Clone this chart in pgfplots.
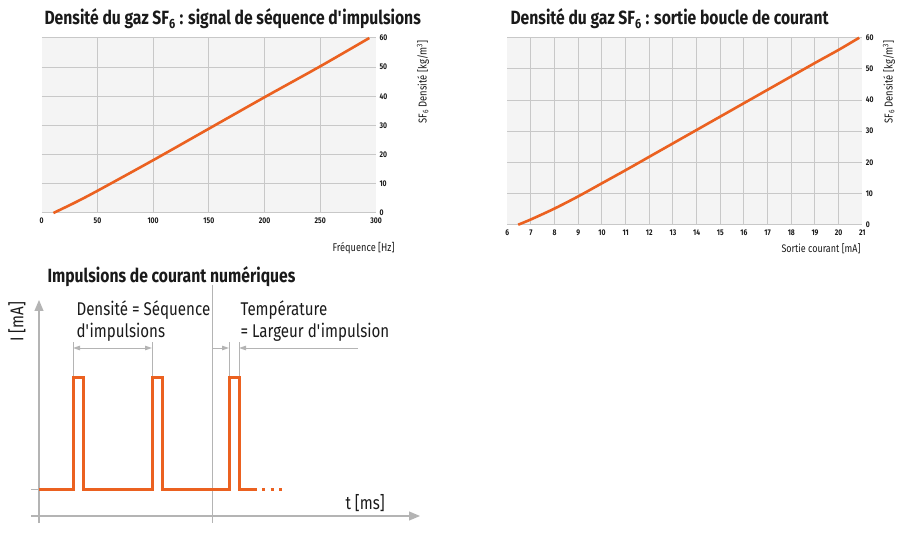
\documentclass[border=0pt]{standalone}
\usepackage{fontspec}
\setmainfont{Fira Sans}[FakeStretch=0.82]
\usepackage{pgfplots}
\pgfplotsset{compat=1.18}
\usetikzlibrary{arrows.meta}

\definecolor{curve}{HTML}{EB6120}
\definecolor{gridc}{HTML}{C8C8C8}
\definecolor{bgc}{HTML}{F4F4F4}
\definecolor{annot}{HTML}{B4B4B4}
\definecolor{txt}{HTML}{1A1A1A}

\pgfplotsset{
  sfchart/.style={
    scale only axis,
    axis line style={draw=none},
    axis background/.style={fill=bgc},
    grid=major,
    grid style={gridc, line width=1bp},
    major tick length=0pt,
    ymin=0, ymax=60,
    ytick={0,10,...,60},
    yticklabel pos=right,
    /pgf/number format/assume math mode=true,
    tick label style={font=\fontsize{8.3}{8.3}\selectfont\bfseries, text=txt},
    x tick label style={yshift=-1.5bp},
    extra x tick style={grid=none},
    clip=false,
  },
  curvestyle/.style={curve, line width=2.6bp, smooth, no marks},
}

\begin{document}
\begin{tikzpicture}
\useasboundingbox (0,0) rectangle (904bp,533bp);

% --- chart 1: pulse sequence
\begin{axis}[sfchart,
    at={(41.7bp,320bp)}, anchor=south west,
    width=334.3bp, height=175bp,
    xmin=0, xmax=300,
    xtick={50,100,...,250},
    extra x ticks={0,300}]
  \addplot[curvestyle] coordinates {
    (10.5,0) (30,3.6) (50,7.6) (100,18.1) (150,28.9) (200,39.7) (250,50.3) (294,60)
  };
\end{axis}
\node[anchor=base west, font=\fontsize{19.2}{19}\selectfont\bfseries, text=txt]
  at (41bp,508bp) {Densité du gaz SF\textsubscript{6} : signal de séquence d\textquotesingle impulsions};
\node[rotate=90, anchor=east, font=\fontsize{11.5}{11.5}\selectfont, text=txt]
  at (423bp,496bp) {SF\textsubscript{6} Densité [kg/m\textsuperscript{3}]};
\node[anchor=east, font=\fontsize{11.3}{11}\selectfont, text=txt]
  at (398bp,284.5bp) {Fréquence [Hz]};

% --- chart 2: current loop
\begin{axis}[sfchart,
    at={(507.3bp,308.3bp)}, anchor=south west,
    width=355bp, height=187bp,
    xmin=6, xmax=21,
    xtick={7,...,20},
    extra x ticks={6,21}]
  \addplot[curvestyle] coordinates {
    (6.46,0) (7,1.7) (8,5.2) (9,9.1) (10,13.3) (11,17.5) (12,21.8) (14,30.4)
    (15,34.7) (16,39.0) (17,43.3) (18,47.6) (19,51.9) (20,56.1) (20.87,60)
  };
\end{axis}
\node[anchor=base west, font=\fontsize{19.2}{19}\selectfont\bfseries, text=txt]
  at (507bp,508bp) {Densité du gaz SF\textsubscript{6} : sortie boucle de courant};
\node[rotate=90, anchor=east, font=\fontsize{11.5}{11.5}\selectfont, text=txt]
  at (889bp,496bp) {SF\textsubscript{6} Densité [kg/m\textsuperscript{3}]};
\node[anchor=east, font=\fontsize{11}{11}\selectfont, text=txt]
  at (864bp,284.5bp) {Sortie courant [mA]};

% --- pulse diagram (pixel coordinates, y downward)
\begin{axis}[
    at={(0bp,0bp)}, anchor=south west,
    scale only axis, width=450bp, height=273bp,
    xmin=0, xmax=450, ymin=260, ymax=533, y dir=reverse,
    axis lines=none, clip=false]
  % axes
  \draw[annot, line width=1.2bp, -{Triangle[length=11bp,width=9bp]}] (39,523) -- (39,300);
  \draw[annot, line width=1.2bp, -{Triangle[length=11bp,width=9bp]}] (31,516) -- (420,516);
  \draw[annot, line width=1bp] (212,285) -- (212,523);
  \draw[annot, line width=1bp] (31,489) -- (39,489);
  % extension lines
  \draw[annot, line width=1bp] (73,342) -- (73,377);
  \draw[annot, line width=1bp] (152,342) -- (152,377);
  \draw[annot, line width=1bp] (229,342) -- (229,377);
  \draw[annot, line width=1bp] (239,342) -- (239,377);
  % dimension arrows
  \draw[annot, line width=1bp, {Triangle[length=7bp,width=4.5bp]}-{Triangle[length=7bp,width=4.5bp]}] (73,348) -- (152,348);
  \draw[annot, line width=1bp, -{Triangle[length=7bp,width=4.5bp]}] (212,348) -- (229,348);
  \draw[annot, line width=1bp, -{Triangle[length=7bp,width=4.5bp]}] (358,348) -- (239,348);
  % pulse train
  \addplot[curve, line width=3bp, no marks, line join=miter] coordinates {
    (39,489) (73,489) (73,377) (83,377) (83,489)
    (152,489) (152,377) (162,377) (162,489)
    (229,489) (229,377) (239,377) (239,489) (257,489)
  };
  \addplot[curve, line width=3bp, no marks, dash pattern=on 3bp off 5.5bp] coordinates {
    (262,489) (284,489)
  };
  % texts
  \node[anchor=base west, font=\fontsize{19.2}{19}\selectfont\bfseries, text=txt]
    at (44,283) {Impulsions de courant numériques};
  \node[anchor=base west, font=\fontsize{18.5}{18}\selectfont, text=txt]
    at (73,315) {Densité = Séquence};
  \node[anchor=base west, font=\fontsize{18.5}{18}\selectfont, text=txt]
    at (73,337) {d\textquotesingle impulsions};
  \node[anchor=base west, font=\fontsize{18.5}{18}\selectfont, text=txt]
    at (237,315) {Température};
  \node[anchor=base west, font=\fontsize{18.5}{18}\selectfont, text=txt]
    at (237,337) {= Largeur d\textquotesingle impulsion};
  \node[rotate=90, anchor=center, font=\fontsize{18.5}{18}\selectfont, text=txt]
    at (17,322) {I [mA]};
  \node[anchor=base west, font=\fontsize{18.5}{18}\selectfont, text=txt]
    at (342,509) {t [ms]};
\end{axis}
\end{tikzpicture}
\end{document}
